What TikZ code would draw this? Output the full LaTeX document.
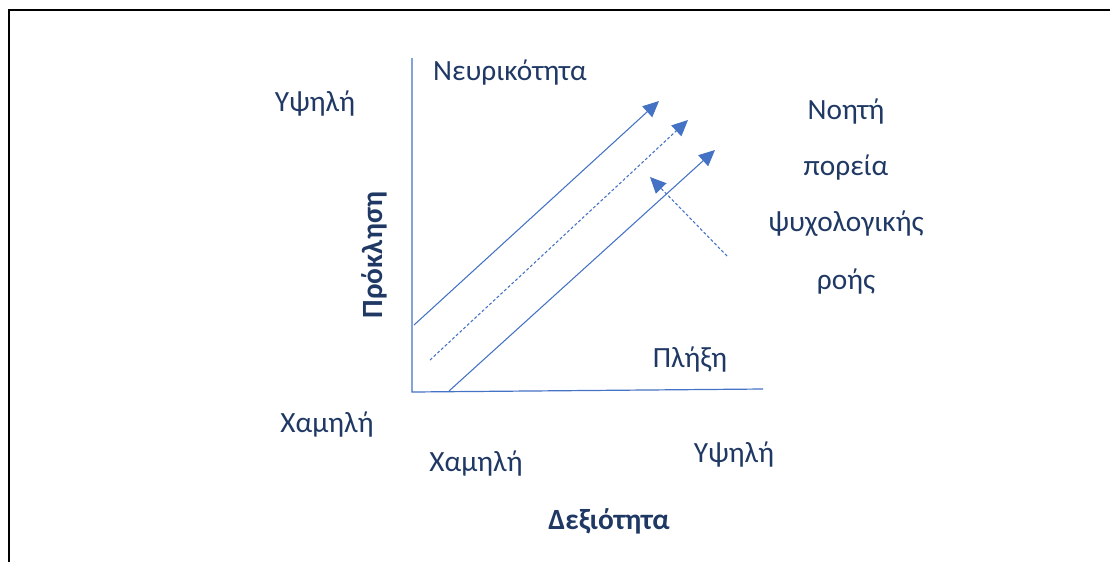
\documentclass[tikz,border=0pt]{standalone}
\usepackage{fontspec}
\setmainfont{Carlito}
\usetikzlibrary{arrows.meta}
\definecolor{txt}{HTML}{1F3864}
\definecolor{ln}{HTML}{4472C4}
\begin{document}
\begin{tikzpicture}[x=0.75pt,y=-0.75pt,
  lbl/.style={text=txt,font=\fontsize{22}{26}\selectfont,inner sep=0pt},
  blbl/.style={lbl,font=\fontsize{22}{26}\selectfont\bfseries},
  axis/.style={draw=ln,line width=0.9pt},
  diag/.style={draw=ln,line width=0.8pt,-{Triangle[length=12pt,width=11pt]}},
  dsh/.style={diag,dash pattern=on 2.2pt off 1.6pt}]
\useasboundingbox (0,0) rectangle (1110,562);
\draw[line width=1.6pt] (9,562) -- (9,10) -- (1110,10);
% axes
\coordinate (ytop) at (412,58);
\coordinate (orig) at (412,392);
\coordinate (xend) at (763,389);
\draw[axis] (ytop) -- (orig) -- (xend);
% diagonal arrows
\coordinate (a1s) at (414,325); \coordinate (a1e) at (659,101);
\coordinate (a2s) at (430,360); \coordinate (a2e) at (688,120);
\coordinate (a3s) at (449,391); \coordinate (a3e) at (715,150);
\coordinate (a4s) at (727,256); \coordinate (a4e) at (650,177);
\draw[diag] (a1s) -- (a1e);
\draw[dsh] (a2s) -- (a2e);
\draw[diag] (a3s) -- (a3e);
\draw[dsh] (a4s) -- (a4e);
% labels
\node[lbl] (neur) at (510,73) {Νευρικότητα};
\node[lbl] (yhi) at (315,104) {Υψηλή};
\node[lbl] (ylo) at (327,425) {Χαμηλή};
\node[lbl] (xlo) at (476,464) {Χαμηλή};
\node[lbl] (xhi) at (734,455) {Υψηλή};
\node[blbl] (xlab) at (609,521) {Δεξιότητα};
\node[blbl,rotate=90] (ylab) at (374,255) {Πρόκληση};
\node[lbl] (plixi) at (690,360) {Πλήξη};
\node[lbl] (t1) at (846,112) {Νοητή};
\node[lbl] (t2) at (846,168) {πορεία};
\node[lbl] (t3) at (846,224) {ψυχολογικής};
\node[lbl] (t4) at (846,282) {ροής};
\end{tikzpicture}
\end{document}
